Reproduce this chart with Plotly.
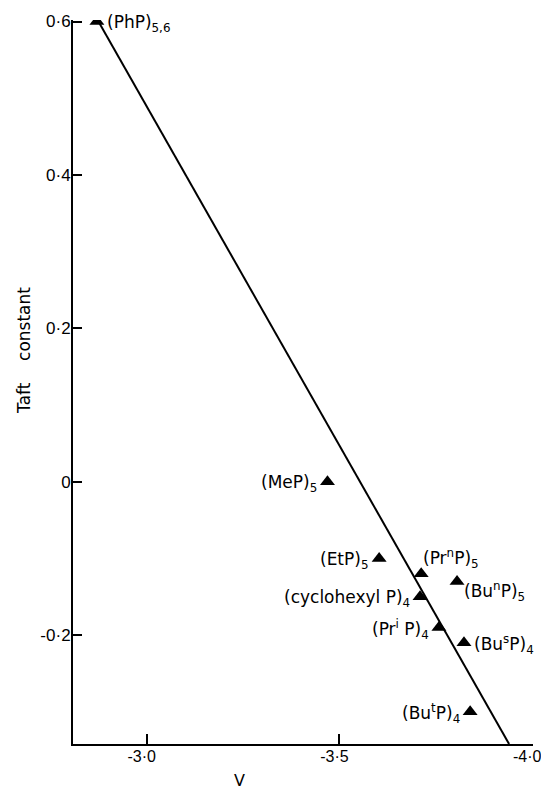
import plotly.graph_objects as go

# Data
compounds = ["(PhP)<sub>5,6</sub>", "(MeP)<sub>5</sub>", "(EtP)<sub>5</sub>",
             "(Pr<sup>n</sup>P)<sub>5</sub>", "(Bu<sup>n</sup>P)<sub>5</sub>",
             "(cyclohexyl P)<sub>4</sub>", "(Pr<sup>i</sup> P)<sub>4</sub>",
             "(Bu<sup>s</sup>P)<sub>4</sub>", "(Bu<sup>t</sup>P)<sub>4</sub>"]
v_values = [-2.871, -3.469, -3.603, -3.712, -3.805, -3.709, -3.758, -3.823, -3.839]
taft_values = [0.60, 0.00, -0.10, -0.12, -0.13, -0.15, -0.19, -0.21, -0.30]
label_side = ["right", "left", "left", "above", "below-right", "left", "left", "right", "left"]

fit_v = [-2.875, -3.940]
fit_taft = [0.60, -0.342]

x_ticks = [-3.0, -3.5, -4.0]
x_ticktext = ["-3·0", "-3·5", "-4·0"]
y_ticks = [0.6, 0.4, 0.2, 0.0, -0.2]
y_ticktext = ["0·6", "0·4", "0·2", "0", "-0·2"]

TICKFONT = "Liberation Sans"
LABFONT = "DejaVu Sans"

fig = go.Figure()
fig.add_trace(go.Scatter(x=fit_v, y=fit_taft, mode="lines",
                         line=dict(color="black", width=2), hoverinfo="skip"))
fig.add_trace(go.Scatter(x=v_values, y=taft_values, mode="markers",
                         marker=dict(symbol="triangle-up", size=13, color="black")))

placement = {
    "right": dict(xanchor="left", xshift=8, yshift=-2),
    "left": dict(xanchor="right", xshift=-8, yshift=-2),
    "above": dict(xanchor="left", xshift=0, yshift=15),
    "below-right": dict(xanchor="left", xshift=5, yshift=-10),
}
for name, xv, yv, side in zip(compounds, v_values, taft_values, label_side):
    fig.add_annotation(x=xv, y=yv, text=name, showarrow=False,
                       font=dict(family=LABFONT, size=17, color="black"),
                       yanchor="middle", **placement[side])

fig.add_annotation(xref="paper", yref="paper", x=-0.107, y=0.544,
                   text="Taft\u00a0\u00a0\u00a0\u00a0constant", textangle=-90,
                   showarrow=False, font=dict(family=LABFONT, size=17, color="black"),
                   xanchor="center", yanchor="middle")
fig.add_annotation(xref="paper", yref="paper", x=0.362, y=-0.051,
                   text="V", showarrow=False,
                   font=dict(family=LABFONT, size=16, color="black"),
                   xanchor="center", yanchor="middle")

fig.update_layout(
    width=541, height=789,
    margin=dict(l=73, r=8, t=20, b=45, autoexpand=False),
    paper_bgcolor="white", plot_bgcolor="white",
    showlegend=False,
    font=dict(family=TICKFONT, size=17, color="black"),
    xaxis=dict(range=[-2.809, -4.002], tickvals=x_ticks, ticktext=x_ticktext,
               showgrid=False, zeroline=False, showline=True, linecolor="black",
               linewidth=2, ticks="inside", ticklen=10, tickwidth=2,
               tickcolor="black", tickfont=dict(family=TICKFONT, size=16),
               automargin=False, ticklabeloverflow="allow",
               ticklabelshift=5, ticklabelstandoff=-3),
    yaxis=dict(range=[-0.342, 0.602], tickvals=y_ticks, ticktext=y_ticktext,
               showgrid=False, zeroline=False, showline=True, linecolor="black",
               linewidth=2, ticks="inside", ticklen=9, tickwidth=2,
               tickcolor="black", tickfont=dict(family=TICKFONT, size=17),
               automargin=False, ticklabeloverflow="allow",
               ticklabelstandoff=-3),
)

fig.write_html("out.html", config={"displayModeBar": False},
               post_script="document.body.style.margin='0';"
                           "document.body.style.overflow='hidden';")
